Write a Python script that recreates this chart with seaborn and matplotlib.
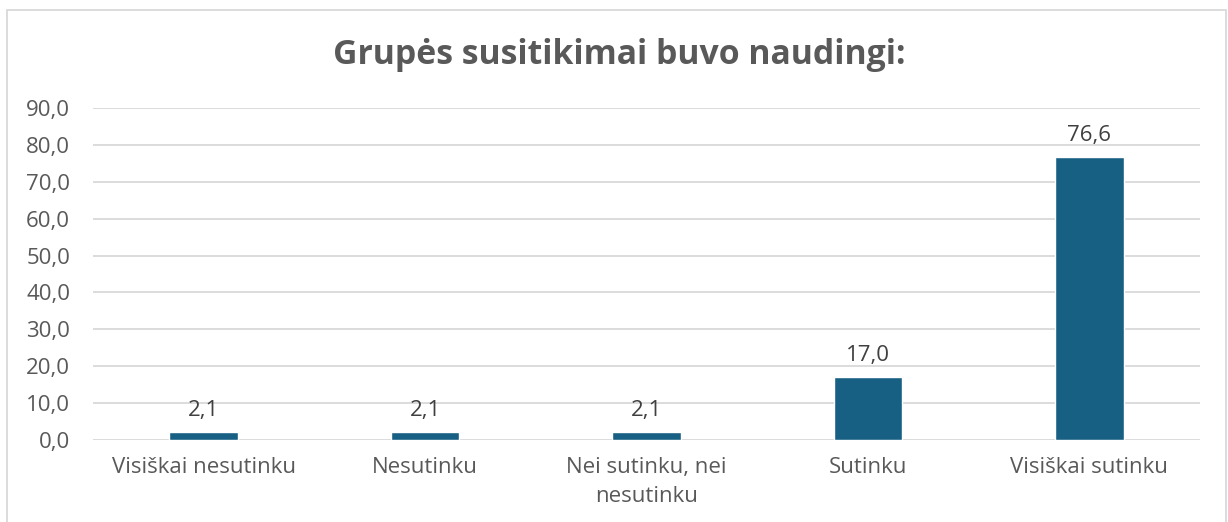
import matplotlib
matplotlib.use("Agg")
import matplotlib.pyplot as plt
import seaborn as sns
import pandas as pd
from matplotlib.patches import Rectangle

categories = ["Visiškai nesutinku", "Nesutinku", "Nei sutinku, nei nesutinku", "Sutinku", "Visiškai sutinku"]
tick_labels = ["Visiškai nesutinku", "Nesutinku", "Nei sutinku, nei\nnesutinku", "Sutinku", "Visiškai sutinku"]
values = [2.1, 2.1, 2.1, 17.0, 76.6]
yticks = [0, 10, 20, 30, 40, 50, 60, 70, 80, 90]
title = "Grupės susitikimai buvo naudingi:"

sns.set_theme(style="white")
plt.rcParams["font.family"] = ["Open Sans", "DejaVu Sans"]

df = pd.DataFrame({"cat": categories, "val": values})

fig = plt.figure(figsize=(12.28, 5.22), dpi=100)
ax = fig.add_axes([93/1228, 1-440/522, (1200-93)/1228, (440-108)/522])

sns.barplot(data=df, x="cat", y="val", color="#186083", width=0.31, saturation=1, ax=ax, zorder=3)

fs = 16
ax.set_ylim(0, 90)
ax.set_xlim(-0.5, 4.5)
ax.set_yticks(yticks)
ax.set_yticklabels([f"{t:.1f}".replace(".", ",") for t in yticks], fontsize=fs, color="#595959")
ax.set_xticks(range(len(categories)))
ax.set_xticklabels(tick_labels, fontsize=fs, color="#595959", linespacing=1.45)
ax.tick_params(axis="both", length=0)
ax.tick_params(axis="y", pad=16.5)
ax.tick_params(axis="x", pad=12.5)
ax.set_xlabel("")
ax.set_ylabel("")
for s in ax.spines.values():
    s.set_visible(False)
ax.yaxis.grid(True, color="#D9D9D9", linewidth=1.3, zorder=0)
ax.set_axisbelow(True)

for i, v in enumerate(values):
    ax.annotate(f"{v:.1f}".replace(".", ","), (i, v), xytext=(0, 8), textcoords="offset points",
                ha="center", va="bottom", fontsize=fs, color="#404040")

fig.text(619/1228, 1-55/522, title, ha="center", va="center", fontsize=24.3, fontweight="bold", color="#595959")

fig.patches.append(Rectangle((7/1228, -0.1), (1226-7)/1228, 1.1-10/522,
                             transform=fig.transFigure, fill=False, edgecolor="#D9D9D9", linewidth=1.3))

fig.savefig("out.png", dpi=100)
